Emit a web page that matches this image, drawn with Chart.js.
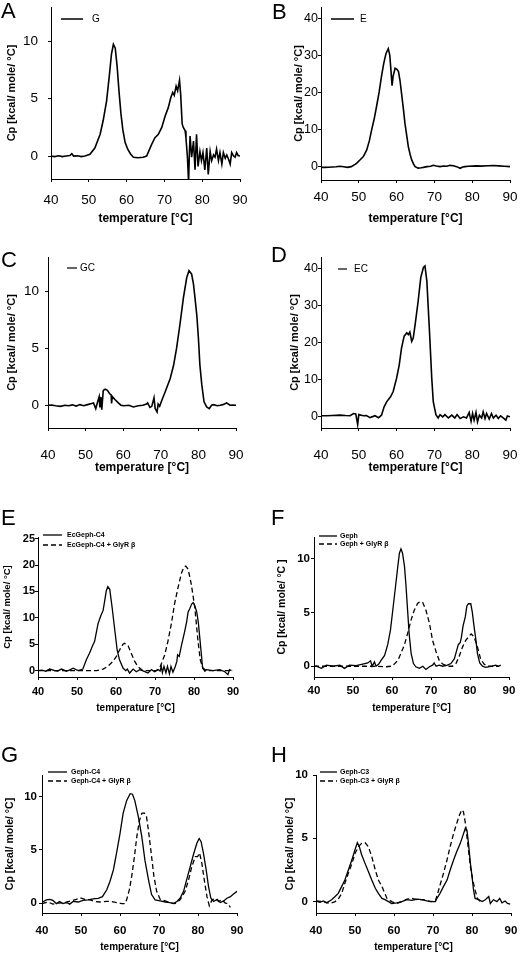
<!DOCTYPE html>
<html>
<head>
<meta charset="utf-8">
<script src="https://cdn.jsdelivr.net/npm/chart.js@4.4.1/dist/chart.umd.min.js"></script>
<style>
  body { margin: 0; background: #fff; width: 520px; height: 953px; position: relative; overflow: hidden; font-family: "Liberation Sans", Arial, sans-serif; }
  .panel { position: absolute; }
  .letter { position: absolute; font-size: 22px; line-height: 22px; color: #000; }
</style>
</head>
<body>
<script>
// temperature [°C] / Cp [kcal/ mole/ °C] pairs
var xTicks = [40, 50, 60, 70, 80, 90];

var seriesG = [[40,0],[41,-0.05],[42,0.02],[43,-0.05],[44,0],[45,0.05],[45.5,0.2],[46,0],[47,0.02],[48,-0.05],[49,0],[50.3,0.15],[51.6,0.7],[53,1.9],[53.8,3.1],[54.7,4.8],[55.4,6.9],[56,8.9],[56.5,9.75],[57,9.4],[57.5,7.8],[58,5.6],[58.5,3.7],[59,2.3],[59.6,1.2],[60.3,0.6],[61,0.2],[61.8,-0.1],[63,-0.15],[64.4,-0.1],[65.3,0],[66.6,1.0],[67.5,1.6],[68.4,1.9],[69.3,2.5],[70.2,3.5],[71,4.2],[71.7,5.1],[72.2,5.55],[72.6,5.3],[73.1,6.1],[73.5,5.7],[74,6.6],[74.3,5.4],[74.7,2.8],[75,2.5],[75.5,2.2],[75.7,1.6],[76.1,-0.15],[76.4,-2.3],[76.6,0.2],[76.8,1.75],[77.2,-0.1],[77.7,1.3],[78.1,-1.2],[78.5,1.9],[78.9,-0.9],[79.4,0.4],[79.8,-0.4],[80.2,0.3],[80.7,-1.2],[81.2,0.7],[81.6,-1.6],[82.1,0.4],[82.5,-0.4],[83,0.1],[83.4,-0.1],[83.8,0.6],[84.3,-0.4],[84.7,0.3],[85.2,-0.7],[85.6,0.3],[86.1,-0.2],[86.5,0.1],[87,-0.3],[87.4,-0.7],[87.8,0.3],[88.3,0],[88.7,-0.1],[89.1,0.3],[89.5,0.05],[90,0]];

var seriesE = [[40,-0.2],[41,-0.2],[42,-0.15],[43,-0.1],[44,-0.05],[45,0.1],[46,-0.05],[47,-0.2],[48,0],[49,0.6],[49.4,0.9],[50.3,1.8],[51.2,2.7],[52.1,4.5],[52.8,7],[53.4,9.9],[54.1,13],[54.7,16.2],[55.4,20.2],[56,24.3],[56.6,27.8],[57.2,30.5],[57.8,31.8],[58.2,30],[58.5,26],[58.8,21.8],[59.1,24.5],[59.6,26.5],[60.1,26.2],[60.5,25.6],[60.9,23.2],[61.3,19.8],[61.8,15.5],[62.2,11.7],[62.7,8.2],[63.1,5.4],[63.6,3.2],[64,1.8],[64.5,0.7],[64.9,0],[65.7,-0.4],[66.5,-0.3],[67.1,-0.2],[68,0],[69,0.1],[69.7,0.35],[70.5,0.15],[71.5,0],[72.5,0.15],[73.3,0.1],[74.1,0.35],[75,0.25],[75.9,0],[76.8,-0.45],[77.5,-0.1],[78.1,0],[79,0.1],[80,0.15],[81.2,0.2],[82.5,0.15],[84,0.25],[85.6,0.3],[87,0.2],[88.5,0.1],[90,0]];

var seriesGC = [[40,0],[41,0.02],[42,-0.05],[43.3,-0.1],[44.5,0],[45.5,-0.05],[46.5,0.03],[47.5,-0.08],[48.5,0.05],[49.5,-0.05],[50.5,0.05],[51.6,0.15],[52.1,0.2],[52.7,-0.3],[53.2,0.3],[53.6,0.75],[53.8,-0.2],[54.1,0.7],[54.3,-0.4],[54.7,1.3],[55.2,1.4],[55.8,1.3],[56.4,1.0],[56.8,0.9],[56.9,0.15],[57.1,0.75],[57.8,0.5],[58.7,0.2],[59.4,0],[60.1,-0.05],[61.5,0],[62.7,-0.15],[64,-0.05],[65.2,0],[66.2,0.1],[66.5,0.2],[67.1,-0.2],[67.6,-0.1],[68.2,0.65],[68.5,-0.3],[69,-0.6],[69.3,0.1],[69.7,-0.1],[70.3,0.45],[71.2,1.2],[72.5,2.35],[73.4,3.5],[74.2,5.0],[75.1,7.1],[76,9.4],[76.9,11.2],[77.5,11.8],[78.2,11.5],[78.7,10.6],[79.1,9.4],[79.6,7.8],[80,5.9],[80.4,3.5],[80.9,1.8],[81.5,0.3],[82.2,-0.15],[82.9,-0.3],[83.5,0],[84,0.05],[85,-0.05],[85.8,0],[86.5,0.05],[87.5,0.2],[88.4,0],[89.2,0.02],[90,0]];

var seriesEC = [[40,0.3],[41.5,0.3],[43,0.35],[45,0.45],[46.5,0.35],[47.7,0.3],[48.6,0.9],[49.2,0.8],[49.7,-2.1],[50,0.6],[51.2,0.3],[52,0.35],[53,-0.2],[54.3,0.3],[55.2,-0.25],[56,0.45],[56.7,2.7],[57.4,4.1],[58.4,5.4],[59.1,6.8],[60,10.4],[60.7,14],[61.3,18.5],[62,21.7],[62.7,22.6],[63.1,22.1],[63.5,22.8],[64,20.3],[64.4,21.2],[64.9,24.8],[65.7,31.1],[66.4,37.5],[67.1,40.2],[67.5,40.6],[68,36.6],[68.7,23],[69.3,10.4],[69.7,4.1],[70.4,0.6],[71,-0.3],[71.5,0.6],[72.2,0],[72.8,0.6],[73.7,-0.3],[74.6,0.45],[75.4,-0.3],[76,0.6],[76.8,-0.45],[77.7,0],[78.5,-0.3],[79.2,1.2],[79.7,-1.2],[80.1,0.9],[80.5,-0.9],[81,1.2],[81.4,-1.35],[81.9,0.45],[82.5,-0.3],[82.9,1.35],[83.4,-0.45],[83.8,0.9],[84.5,-0.6],[85.1,0.9],[85.6,-0.3],[86.3,0.45],[86.9,-0.45],[87.5,0.25],[88.2,-0.3],[88.9,-0.9],[89.3,0.25],[90,0]];

var seriesEcC4 = [[40,0],[41,0.1],[42,-0.1],[43,0.3],[44.3,0],[45,-0.1],[46,0.3],[47.3,-0.1],[48,0.1],[49,0.45],[50.3,0],[51.5,0.3],[52.4,2.05],[53.2,3.3],[54.1,4.9],[54.5,5.5],[55.4,8.9],[56.1,10.4],[56.7,11.4],[57.1,13.2],[57.5,15.1],[57.9,15.9],[58.4,15.4],[59,12],[59.7,7.6],[60.3,3.9],[60.9,2.05],[61.8,0.5],[62.5,0],[62.9,0.3],[63.5,-0.45],[64.4,0.3],[65.2,-0.2],[66.1,0.2],[67.4,-0.2],[68.2,-0.45],[69.1,0.2],[69.9,-0.2],[70.8,0.2],[71.3,-0.1],[71.6,0.8],[71.9,-0.4],[72.3,0.8],[72.8,-0.4],[73.2,0.8],[73.7,-0.6],[74.1,0.8],[74.6,-0.3],[75.2,0.8],[75.6,1.75],[75.8,3.0],[76.2,2.7],[76.8,4.85],[77.2,6.1],[77.6,7.4],[78.1,9.2],[78.5,11.1],[78.9,11.7],[79.4,12.6],[79.8,12.9],[80.2,12.3],[80.7,11.1],[81.1,9.2],[81.5,6.1],[81.9,3.0],[82.2,0.5],[82.8,-0.1],[83.2,0.2],[84.9,0],[86.6,0.2],[87.9,-0.2],[88.7,-0.75],[89.1,0.2],[89.6,0]];
var seriesEcC4Gly = [[40,0],[45,0],[50,0],[55,0],[56.7,0.3],[57.9,0.8],[59.2,1.75],[60.1,2.7],[60.9,3.9],[61.8,5.0],[62.2,5.2],[63.1,4.7],[63.9,3.3],[64.8,1.75],[65.6,0.8],[66.5,0.2],[67.8,0],[70.3,0],[71.2,0.5],[72.5,3.0],[73.3,5.5],[74.2,8.9],[75,12.6],[75.9,15.7],[76.8,18.5],[77.4,19.6],[77.9,19.8],[78.5,19.2],[79.3,16.4],[80.2,12],[81,5.8],[81.6,2.05],[82.3,0.5],[83.2,0],[86,0],[90,0]];

var seriesGeph = [[40,0],[40.6,0],[41.9,-0.2],[43.2,0.1],[44.9,0],[46.6,0.1],[47.8,-0.2],[49.1,0.1],[50.8,0.05],[52.5,0.2],[53.8,0.3],[54.5,0.5],[54.9,0],[55.5,0.4],[55.9,0],[56.6,0.2],[57.2,0.55],[58.1,1.0],[58.9,2.0],[59.6,3.35],[60.2,5.2],[60.9,7.4],[61.5,9.3],[61.9,10.5],[62.3,10.9],[62.7,10.5],[63.2,9.3],[63.6,7.4],[64,5.2],[64.4,3.0],[64.9,1.2],[65.5,0.25],[66.1,-0.05],[67,-0.2],[67.9,0],[68.7,-0.3],[69.6,-0.05],[70.4,0.1],[70.8,0.3],[71.3,0],[72.1,0.1],[73,0],[74.2,0.1],[75.1,0.25],[76,0.7],[76.5,1.35],[77,2.0],[77.5,2.2],[77.8,2.7],[78.2,3.7],[78.8,4.6],[79.2,5.6],[79.6,5.8],[80.2,5.8],[80.6,5.0],[81,3.8],[81.5,2.5],[81.9,1.2],[82.5,0.3],[83.2,0],[84,-0.1],[85.7,0],[86.6,0.1],[87.3,0],[87.9,0.1]];
var seriesGephGly = [[40,0],[45,0],[50,0],[55,0],[58.5,-0.05],[59.8,0],[60.6,0.2],[61.5,0.55],[62.3,1.2],[63.2,2.0],[64,3.05],[64.9,4.3],[65.7,5.2],[66.6,5.85],[67.3,6.0],[67.9,5.9],[68.7,5.2],[69.6,4.0],[70.4,2.4],[71.3,1.35],[72.1,0.55],[73,0.2],[74.2,0],[75.5,0],[76.4,0.25],[77.2,0.9],[78.1,1.8],[78.9,2.4],[79.8,2.8],[80.3,3.0],[81,2.75],[81.9,1.8],[82.7,0.7],[83.6,0.2],[84.4,0],[87.4,0]];

var seriesC4 = [[40,0.05],[41.1,0.3],[42,0.35],[42.8,0.25],[43.7,-0.05],[44.5,0.15],[45.4,-0.05],[46.3,0.05],[47.1,-0.1],[48,0.15],[49.3,0.1],[50.5,0.25],[51.8,0.3],[53.1,0.4],[54.4,0.45],[55.5,0.6],[56.6,1.25],[57.4,2.0],[58.3,3.1],[59.1,4.65],[60,6.5],[60.8,8.4],[61.7,9.6],[62.6,10.25],[63.2,10.2],[63.8,9.6],[64.7,8.1],[65.6,6.2],[66.4,4.0],[67.3,2.2],[68.1,0.8],[69,0.3],[70.3,0.2],[71.6,0.1],[72.8,0.05],[73.7,-0.05],[74.6,0.15],[75.4,0.45],[76.3,1.1],[77.1,2.2],[78,3.4],[78.8,4.5],[79.7,5.6],[80.3,6.05],[80.8,5.75],[81.4,4.65],[82.1,3.1],[82.7,1.55],[83.3,0.45],[84,0.15],[84.9,0.35],[85.7,0.05],[86.6,0.2],[87.4,0.45],[88.3,0.6],[89.1,0.85],[90,1.1]];
var seriesC4Gly = [[40,-0.05],[41.5,0.1],[42.8,-0.1],[44.1,0],[45.8,0.05],[47.5,0.2],[48.8,0.35],[49.7,0.5],[51,0.35],[52.3,0.3],[53.6,0.15],[54.8,0.1],[56.6,0.15],[57.8,0.15],[59.1,0.05],[60.4,-0.05],[61.3,-0.05],[61.7,0.3],[62.4,1.25],[63,2.5],[63.7,4.35],[64.3,6.2],[65,7.75],[65.6,8.4],[66.2,8.45],[66.8,8.1],[67.4,6.5],[68.1,4.35],[68.7,2.5],[69.4,1.1],[70.3,0.35],[71.6,0.2],[72.8,0.05],[74.1,-0.05],[75.4,0.3],[76.7,1.1],[77.6,2.2],[78.4,3.4],[79.3,4.35],[79.9,4.35],[80.4,4.7],[81,3.7],[81.6,2.2],[82.3,0.6],[82.9,-0.25],[83.6,0.3],[84.4,0.4],[85.3,0.15],[86.1,0.3],[87,0],[87.7,-0.05],[88.3,-0.4]];

var seriesC3 = [[40,0.05],[41,-0.05],[41.9,0.05],[42.7,-0.1],[44,0.15],[44.9,0.4],[45.7,0.65],[46.6,1.2],[47.4,1.7],[48.3,2.5],[49.2,3.3],[50,4.1],[50.6,4.65],[51.1,4.35],[51.7,3.7],[52.6,3.0],[53.4,2.4],[54.3,1.7],[55.2,1.05],[56,0.65],[56.9,0.25],[57.7,0.15],[58.6,0],[59.4,-0.15],[60.7,-0.1],[62,0],[63.3,0.15],[64.6,0.1],[65.9,0.2],[67.1,0.15],[68.4,0.05],[69.7,0],[70.6,0],[71,0.25],[71.8,0.65],[72.7,1.2],[73.6,1.7],[74.4,2.5],[75.3,3.3],[76.1,3.95],[77,4.6],[77.7,5.25],[78.3,5.8],[78.7,5.65],[79.1,4.6],[79.6,3.0],[80,2.0],[80.4,0.9],[80.8,0.25],[81.7,0.15],[82.6,0],[83.4,0.15],[84.3,0.4],[84.7,-0.15],[85.5,0.15],[86.4,0],[87.1,0.25],[87.7,-0.1],[88.5,0.05],[89.1,-0.15],[89.8,-0.2]];
var seriesC3Gly = [[40,0.05],[41.9,0],[43.6,-0.15],[44.9,0],[45.7,0.2],[46.6,0.65],[47.4,1.45],[48.3,2.25],[49.2,3.0],[50,3.8],[50.9,4.35],[51.7,4.6],[52.6,4.65],[53.4,4.35],[54.3,3.55],[55.2,2.5],[56,1.7],[56.9,1.2],[57.3,0.9],[58.2,0.25],[59.4,0],[60.7,-0.15],[62,0],[63.3,0.2],[64.6,0.25],[65.9,0.15],[67.6,0.15],[69.3,0],[70.6,0.05],[71.2,0.65],[71.8,1.3],[72.7,2.25],[73.6,3.3],[74.4,4.35],[75.3,5.4],[76.1,6.2],[76.8,6.85],[77.4,7.25],[77.8,7.1],[78.3,6.2],[78.9,4.6],[79.6,2.75],[80.2,1.7],[80.8,0.9],[81.4,0.25],[82.1,0]];

var FONT = '"Liberation Sans", Arial, sans-serif';
var DASH = [5, 3];

// draws the little line + name key inside each plot
var lineKey = {
  id: 'lineKey',
  afterDraw: function(chart, args, o) {
    var ctx = chart.ctx, a = chart.chartArea;
    ctx.save();
    ctx.font = o.font;
    ctx.textBaseline = 'middle';
    ctx.fillStyle = '#000';
    ctx.strokeStyle = '#000';
    chart.data.datasets.forEach(function(ds, i) {
      var x = a.left + o.dx, y = a.top + o.dy + i * o.row;
      ctx.beginPath();
      ctx.lineWidth = o.lw;
      ctx.setLineDash(ds.borderDash || []);
      ctx.moveTo(x, y);
      ctx.lineTo(x + o.len, y);
      ctx.stroke();
      ctx.setLineDash([]);
      ctx.fillText(ds.label, x + o.len + o.gap, y);
    });
    ctx.restore();
  }
};

var panels = [
  { letter:'A', lx:2, ly:3, box:[0,0,260,226], area:[51,240,7,179], y:[-2,13], yTicks:[0,5,10],
    series:[['G', seriesG, []]], lw:1.6, tickFont:{size:13.5}, yTickFont:{size:13.5}, tickPadX:10, tickPadY:10,
    yTitle:'Cp [kcal/ mole/ °C]', yTitleFont:11, yTitleX:12, xTitleFont:12,
    key:{dx:10, dy:12, len:22, gap:9, row:0, lw:1.5, font:'10px ' + FONT} },
  { letter:'B', lx:273, ly:4, box:[260,0,260,226], area:[321,510,7,180], y:[-3.6,43], yTicks:[0,10,20,30,40],
    series:[['E', seriesE, []]], lw:1.6, tickFont:{size:13.5}, yTickFont:{size:12.5}, tickPadX:6, tickPadY:0,
    yTitle:'Cp [kcal/ mole/ °C]', yTitleFont:11, yTitleX:299, xTitleFont:12,
    key:{dx:10, dy:12, len:23, gap:6, row:0, lw:1.5, font:'10px ' + FONT} },
  { letter:'C', lx:2, ly:252, box:[0,226,260,249], area:[48,236,257,428], y:[-2,13], yTicks:[0,5,10],
    series:[['GC', seriesGC, []]], lw:1.6, tickFont:{size:13.5}, yTickFont:{size:13.5}, tickPadX:16, tickPadY:6,
    yTitle:'Cp [kcal/ mole/ °C]', yTitleFont:11, yTitleX:12, xTitleFont:12,
    key:{dx:19, dy:11, len:10, gap:3, row:0, lw:1.2, font:'10px ' + FONT} },
  { letter:'D', lx:272, ly:247, box:[260,226,260,249], area:[321,510,257,428], y:[-3,43], yTicks:[0,10,20,30,40],
    series:[['EC', seriesEC, []]], lw:1.6, tickFont:{size:13.5}, yTickFont:{size:12.5}, tickPadX:16, tickPadY:0,
    yTitle:'Cp [kcal/ mole/ °C]', yTitleFont:11, yTitleX:295, xTitleFont:12,
    key:{dx:17, dy:12, len:9, gap:7, row:0, lw:1.2, font:'10px ' + FONT} },
  { letter:'E', lx:2, ly:510, box:[0,475,260,239], area:[38,233,537,677], y:[-1.2,25.3], yTicks:[0,5,10,15,20,25],
    series:[['EcGeph-C4', seriesEcC4, []], ['EcGeph-C4 + GlyR β', seriesEcC4Gly, DASH]], lw:1.3,
    tickFont:{size:11, weight:'bold'}, yTickFont:{size:11, weight:'bold'}, tickPadX:5, tickPadY:0,
    yTitle:'Cp [kcal/ mole/ °C]', yTitleFont:9.5, yTitleX:7, xTitleFont:10,
    key:{dx:5, dy:-2, len:19, gap:5, row:10, lw:1.3, font:'bold 7px ' + FONT} },
  { letter:'F', lx:272, ly:510, box:[260,475,260,239], area:[314,509,537,677], y:[-1,12], yTicks:[0,5,10],
    series:[['Geph', seriesGeph, []], ['Geph + GlyR β', seriesGephGly, DASH]], lw:1.3,
    tickFont:{size:11.5, weight:'bold'}, yTickFont:{size:11.5, weight:'bold'}, tickPadX:4, tickPadY:1,
    yTitle:'Cp [kcal/ mole/ °C ]', yTitleFont:10.5, yTitleX:282, xTitleFont:10,
    key:{dx:5, dy:-1, len:18, gap:3, row:8, lw:1.3, font:'bold 7px ' + FONT} },
  { letter:'G', lx:2, ly:747, box:[0,714,260,239], area:[42,237,775,913], y:[-0.93,12], yTicks:[0,5,10],
    series:[['Geph-C4', seriesC4, []], ['Geph-C4 + GlyR β', seriesC4Gly, DASH]], lw:1.3,
    tickFont:{size:11.5, weight:'bold'}, yTickFont:{size:11.5, weight:'bold'}, tickPadX:8, tickPadY:2,
    yTitle:'Cp [kcal/ mole/ °C]', yTitleFont:10.5, yTitleX:10, xTitleFont:10,
    key:{dx:6, dy:-3, len:19, gap:4, row:9, lw:1.3, font:'bold 7px ' + FONT} },
  { letter:'H', lx:272, ly:747, box:[260,714,260,239], area:[316,511,775,913], y:[-0.9,10], yTicks:[0,5,10],
    series:[['Geph-C3', seriesC3, []], ['Geph-C3 + GlyR β', seriesC3Gly, DASH]], lw:1.3,
    tickFont:{size:11.5, weight:'bold'}, yTickFont:{size:11.5, weight:'bold'}, tickPadX:8, tickPadY:5,
    yTitle:'Cp [kcal/ mole/ °C]', yTitleFont:10.5, yTitleX:290, xTitleFont:10,
    key:{dx:4, dy:-3, len:17, gap:3, row:9, lw:1.3, font:'bold 7px ' + FONT} }
];

panels.forEach(function(p) {
  var b = p.box, a = p.area;
  var wrap = document.createElement('div');
  wrap.className = 'panel';
  wrap.style.left = b[0] + 'px';
  wrap.style.top = b[1] + 'px';
  var cv = document.createElement('canvas');
  cv.width = b[2];
  cv.height = b[3];
  cv.style.width = b[2] + 'px';
  cv.style.height = b[3] + 'px';
  wrap.appendChild(cv);
  document.body.appendChild(wrap);

  var let = document.createElement('div');
  let.className = 'letter';
  let.textContent = p.letter;
  let.style.left = (p.lx - 1) + 'px';
  let.style.top = (p.ly - 3) + 'px';
  document.body.appendChild(let);

  var yLh = p.yTitleFont * 1.2;
  var padL = p.yTitleX - yLh / 2 - b[0];
  var yW = a[0] - b[0] - padL;
  var xH = b[1] + b[3] - a[3];
  var xFont = Object.assign({family: FONT}, p.tickFont);
  var yFont = Object.assign({family: FONT}, p.yTickFont);

  new Chart(cv, {
    type: 'line',
    data: {
      datasets: p.series.map(function(s) {
        return {
          label: s[0],
          data: s[1].map(function(d) { return {x: d[0], y: d[1]}; }),
          borderColor: '#000',
          borderWidth: p.lw,
          borderDash: s[2],
          pointRadius: 0,
          fill: false,
          tension: 0
        };
      })
    },
    options: {
      responsive: false,
      animation: false,
      devicePixelRatio: 1,
      layout: { padding: { left: padL, top: a[2] - b[1], right: b[0] + b[2] - a[1], bottom: 0 } },
      plugins: {
        legend: { display: false },
        tooltip: { enabled: false },
        lineKey: p.key
      },
      scales: {
        x: {
          type: 'linear', min: 40, max: 90,
          afterBuildTicks: function(s) { s.ticks = xTicks.map(function(v) { return {value: v}; }); },
          afterFit: function(s) { s.height = xH; s.paddingLeft = 0; s.paddingRight = 0; },
          grid: { drawOnChartArea: false, drawTicks: true, tickLength: 3, color: '#000' },
          border: { color: '#000', width: 1 },
          ticks: { color: '#000', font: xFont, padding: p.tickPadX, maxRotation: 0, autoSkip: false },
          title: { display: true, text: 'temperature [°C]', color: '#000', padding: 0,
                   font: { family: FONT, size: p.xTitleFont, weight: 'bold' } }
        },
        y: {
          type: 'linear', min: p.y[0], max: p.y[1],
          afterBuildTicks: function(s) { s.ticks = p.yTicks.map(function(v) { return {value: v}; }); },
          afterFit: function(s) { s.width = yW; s.paddingTop = 0; s.paddingBottom = 0; },
          grid: { drawOnChartArea: false, drawTicks: true, tickLength: 3, color: '#000' },
          border: { color: '#000', width: 1 },
          ticks: { color: '#000', font: yFont, padding: p.tickPadY, autoSkip: false },
          title: { display: true, text: p.yTitle, color: '#000', padding: 0,
                   font: { family: FONT, size: p.yTitleFont, weight: 'bold' } }
        }
      }
    },
    plugins: [lineKey]
  });
});
</script>
</body>
</html>
